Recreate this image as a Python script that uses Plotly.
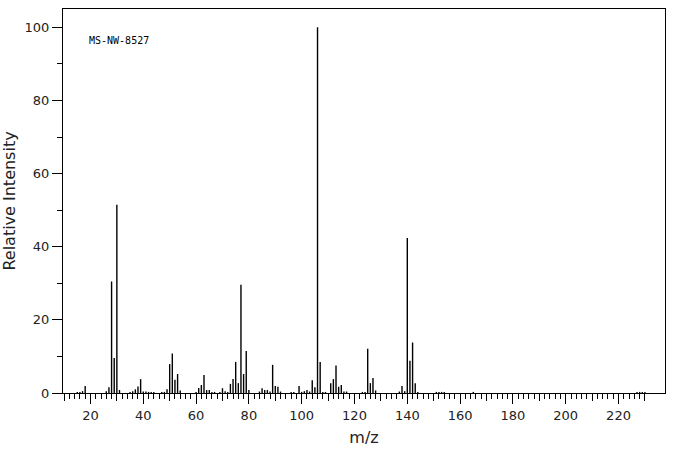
import plotly.graph_objects as go

# m/z values and relative intensities
mz = [15, 16, 17, 18, 26, 27, 28, 29, 30, 31, 35, 36, 37, 38, 39, 40, 41, 42, 43, 44,
      47, 48, 49, 50, 51, 52, 53, 54, 60, 61, 62, 63, 64, 65, 66, 67, 69, 70, 71, 72,
      73, 74, 75, 76, 77, 78, 79, 80, 84, 85, 86, 87, 88, 89, 90, 91, 92, 96, 97, 99,
      100, 101, 102, 103, 104, 105, 106, 107, 108, 109, 111, 112, 113, 114, 115, 116, 117,
      123, 124, 125, 126, 127, 128, 137, 138, 139, 140, 141, 142, 143, 144,
      151, 152, 153, 154, 165, 227, 228, 229, 230]
intensity = [0.3, 0.3, 0.5, 1.9, 0.5, 1.6, 30.5, 9.6, 51.5, 0.8, 0.3, 0.5, 1.0, 1.8, 3.8, 0.4, 0.4, 0.3, 0.3, 0.3,
             0.3, 0.3, 1.0, 7.9, 10.8, 3.6, 5.2, 0.7, 0.3, 1.4, 2.2, 4.9, 0.8, 0.8, 0.3, 0.3, 0.3, 1.3, 0.5, 0.3,
             2.5, 3.8, 8.5, 2.7, 29.6, 5.2, 11.5, 0.8, 0.4, 1.3, 0.8, 0.8, 0.4, 7.7, 1.9, 1.7, 0.4, 0.3, 0.3, 1.9,
             0.3, 0.5, 0.8, 0.4, 3.5, 1.6, 100.0, 8.5, 0.3, 0.3, 2.7, 3.8, 7.5, 1.7, 2.2, 0.4, 0.4,
             0.3, 0.3, 12.1, 2.7, 4.1, 0.7, 0.4, 1.9, 0.5, 42.4, 8.8, 13.8, 2.7, 0.3,
             0.3, 0.3, 0.3, 0.3, 0.3, 0.3, 0.3, 0.3, 0.3]

x_major = list(range(20, 221, 20))
x_mid = list(range(10, 231, 10))
x_minor = list(range(12, 231, 2))
y_major = [0, 20, 40, 60, 80, 100]
label_text = "MS-NW-8527"

# stick spectrum: vertical segments separated by None
xs, ys = [], []
for m, v in zip(mz, intensity):
    xs += [m, m, None]
    ys += [0, v, None]

fig = go.Figure()
fig.add_trace(go.Scatter(x=xs, y=ys, mode="lines",
                         line=dict(color="black", width=1.4),
                         hoverinfo="skip", showlegend=False))
fig.add_trace(go.Scatter(x=[None], y=[None], xaxis="x2", yaxis="y",
                         mode="markers", showlegend=False, hoverinfo="skip"))

tick_font = dict(family="DejaVu Sans", size=13, color="#222")
xr = [9.6, 237.6]

fig.update_layout(
    width=676, height=455,
    margin=dict(l=63, r=11, t=9, b=62),
    paper_bgcolor="white", plot_bgcolor="white",
    xaxis=dict(range=xr, tickmode="array", tickvals=x_major,
               ticks="outside", ticklen=10, tickwidth=1, tickcolor="black",
               showline=True, linecolor="black", linewidth=1, mirror=True,
               showgrid=False, zeroline=False, tickfont=tick_font,
               minor=dict(tickmode="array", tickvals=x_minor, ticks="outside",
                          ticklen=5, tickwidth=1, tickcolor="black", showgrid=False),
               title=dict(text="m/z", font=dict(family="DejaVu Sans", size=16, color="#222"),
                          standoff=10)),
    xaxis2=dict(range=xr, overlaying="x", anchor="y", side="bottom",
                tickmode="array", tickvals=x_mid, ticks="outside", ticklen=7,
                tickwidth=1, tickcolor="black", showticklabels=False,
                showline=False, showgrid=False, zeroline=False),
    yaxis=dict(range=[0, 105], tickmode="array", tickvals=y_major,
               ticks="outside", ticklen=10, tickwidth=1, tickcolor="black",
               showline=True, linecolor="black", linewidth=1, mirror=True,
               showgrid=False, zeroline=False, tickfont=tick_font,
               minor=dict(dtick=10, tick0=0, ticks="outside", ticklen=5,
                          tickwidth=1, tickcolor="black", showgrid=False),
               title=dict(text="Relative Intensity",
                          font=dict(family="DejaVu Sans", size=16, color="#222"),
                          standoff=4)),
    annotations=[dict(x=18.7, y=96.4, xref="x", yref="y", text=label_text,
                      showarrow=False, xanchor="left", yanchor="middle",
                      font=dict(family="DejaVu Sans Mono", size=10, color="black"))],
)

fig.write_html("out.html")
